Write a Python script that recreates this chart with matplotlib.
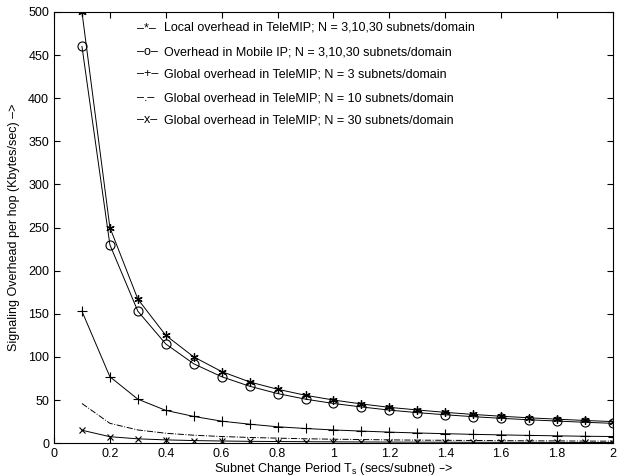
import numpy as np
import matplotlib
matplotlib.use('Agg')
import matplotlib.pyplot as plt

plt.rcParams['font.family'] = ['Liberation Sans', 'DejaVu Sans']

# subnet change period (secs/subnet)
Ts = [0.1, 0.2, 0.3, 0.4, 0.5, 0.6, 0.7, 0.8, 0.9, 1.0,
      1.1, 1.2, 1.3, 1.4, 1.5, 1.6, 1.7, 1.8, 1.9, 2.0]

local_tele = [500, 250, 167, 125, 100, 83, 71, 62.5, 55.5, 50,
              45.5, 41.5, 38.5, 35.7, 33.3, 31.2, 29.4, 27.8, 26.3, 25]
mobile_ip = [460, 230, 153, 115, 92, 77, 66, 57.5, 51, 46,
             42, 38.3, 35.4, 32.9, 30.7, 28.8, 27.1, 25.6, 24.2, 23]
global_n3 = [153, 77, 51, 38, 31, 25.5, 22, 19, 17, 15.3,
             14, 12.8, 11.8, 11, 10.2, 9.6, 9, 8.5, 8, 7.7]
global_n10 = [46, 23, 15.3, 11.5, 9.2, 7.7, 6.6, 5.8, 5.1, 4.6,
              4.2, 3.8, 3.5, 3.3, 3.1, 2.9, 2.7, 2.6, 2.4, 2.3]
global_n30 = [15, 7.5, 5, 3.8, 3, 2.5, 2.1, 1.9, 1.7, 1.5,
              1.4, 1.25, 1.15, 1.07, 1.0, 0.94, 0.88, 0.83, 0.79, 0.75]

legend_marks = ['\u2013*\u2013', '\u2013o\u2013', '\u2013+\u2013', '\u2013.\u2013', '\u2013x\u2013']
legend_texts = ['Local overhead in TeleMIP; N = 3,10,30 subnets/domain',
                'Overhead in Mobile IP; N = 3,10,30 subnets/domain',
                'Global overhead in TeleMIP; N = 3 subnets/domain',
                'Global overhead in TeleMIP; N = 10 subnets/domain',
                'Global overhead in TeleMIP; N = 30 subnets/domain']

fig = plt.figure(figsize=(6.33, 4.76), dpi=100)
ax = fig.add_axes([0.0853, 0.069, 0.883, 0.906])

lw = 0.7
ax.plot(Ts, local_tele, color='k', lw=lw, marker=(6, 2, 0), ms=6, mec='k', mew=0.9)
ax.plot(Ts, mobile_ip, color='k', lw=lw, marker='o', ms=6.5, mfc='none', mec='k', mew=0.8)
ax.plot(Ts, global_n3, color='k', lw=lw, marker='+', ms=7, mew=0.8)
ax.plot(Ts, global_n10, color='k', lw=lw, linestyle='-.')
ax.plot(Ts, global_n30, color='k', lw=lw, marker='x', ms=5, mew=0.8)

ax.set_xlim(0, 2)
ax.set_ylim(0, 500)
ax.set_xticks(np.arange(0, 2.01, 0.2))
ax.set_xticklabels(['0', '0.2', '0.4', '0.6', '0.8', '1', '1.2', '1.4', '1.6', '1.8', '2'])
ax.set_yticks(np.arange(0, 501, 50))
ax.tick_params(direction='in', top=True, right=True, labelsize=9, length=4)
for s in ax.spines.values():
    s.set_linewidth(0.8)

ax.set_xlabel('Subnet Change Period T$_\\mathregular{s}$ (secs/subnet) \u2013>', fontsize=9, labelpad=1)
ax.set_ylabel('Signaling Overhead per hop (Kbytes/sec) \u2013>', fontsize=9, labelpad=6)

rows = [0.963, 0.907, 0.856, 0.800, 0.749]
for y, m, t in zip(rows, legend_marks, legend_texts):
    ax.text(0.149, y, m, transform=ax.transAxes, fontsize=9, va='center')
    ax.text(0.197, y, t, transform=ax.transAxes, fontsize=9, va='center')

plt.savefig('out.png', dpi=100)
